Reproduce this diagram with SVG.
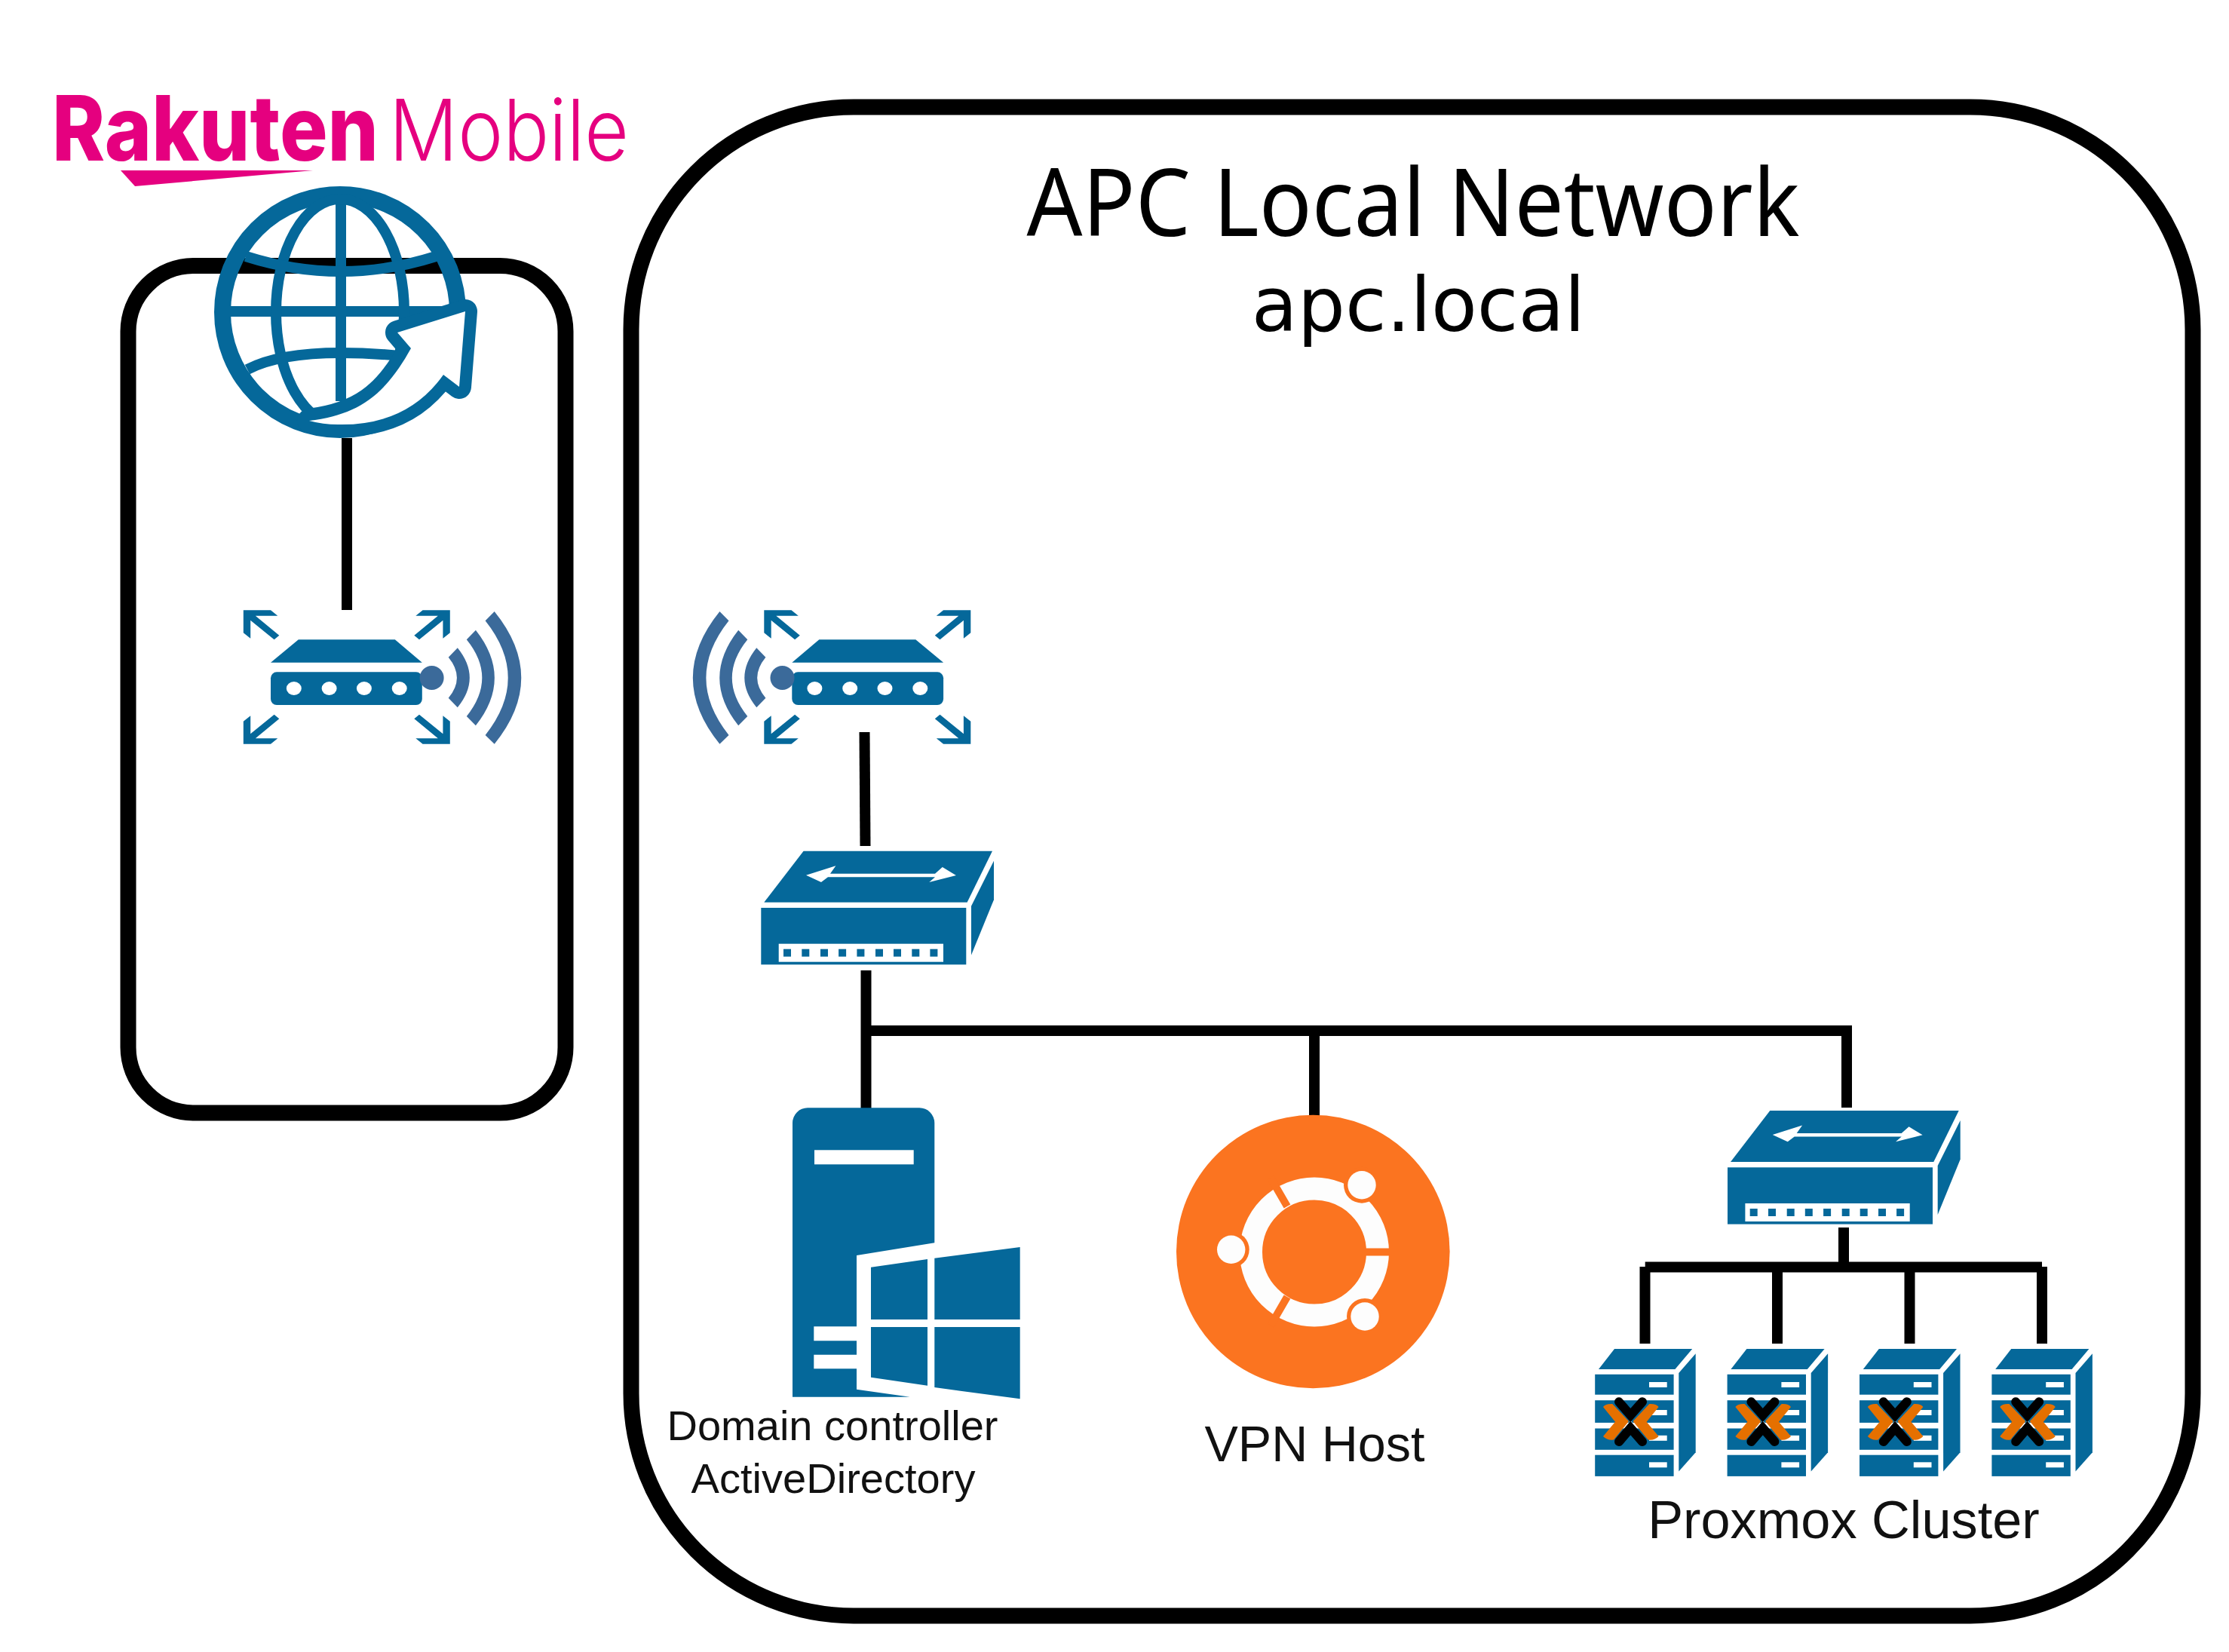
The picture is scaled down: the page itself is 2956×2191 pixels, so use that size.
<svg xmlns="http://www.w3.org/2000/svg" xmlns:xlink="http://www.w3.org/1999/xlink" width="2956" height="2191" viewBox="0 0 2956 2191">
<style>
.b{fill:#05689a}
.w{fill:#fff}
.wifi{fill:#3b6a9a}
.box{fill:none;stroke:#000;stroke-width:21}
.c{fill:none;stroke:#000;stroke-width:14}
.lbl{font-family:"Liberation Sans",Arial,sans-serif;fill:#111;text-anchor:middle}
.ttl{font-family:"Noto Sans","Open Sans",sans-serif;fill:#000;text-anchor:middle}
.sub{font-family:"DejaVu Sans",sans-serif;fill:#000;text-anchor:middle}
.logo{font-family:Inter,"Liberation Sans",sans-serif;fill:#e5007f}
.gl{fill:none;stroke:#05689a;stroke-width:14}
.o{fill:#e57000}
</style>
<defs>
<g id="ar"><polygon class="b" points="-137,-88.7 -100.8,-88.7 -91.5,-81.3 -121,-81.3 -89.5,-55.3 -96.2,-49.7 -127.6,-75.3 -127.6,-51.3 -137,-58.7"/></g>
<g id="router">
<use xlink:href="#ar" href="#ar"/>
<use xlink:href="#ar" href="#ar" transform="scale(-1,1)"/>
<use xlink:href="#ar" href="#ar" transform="scale(1,-1)"/>
<use xlink:href="#ar" href="#ar" transform="scale(-1,-1)"/>
<polygon class="b" points="-64,-49.7 64,-49.7 100,-19.3 -100.8,-19.3"/>
<rect class="b" x="-100.8" y="-6.7" width="200.8" height="43.7" rx="8"/>
<ellipse class="w" cx="-70" cy="15" rx="10" ry="9"/><ellipse class="w" cx="-23.2" cy="15" rx="10" ry="9"/><ellipse class="w" cx="23.1" cy="15" rx="10" ry="9"/><ellipse class="w" cx="69.9" cy="15" rx="10" ry="9"/>
<circle class="wifi" cx="112.8" cy="1" r="16"/>
<path class="wifi" d="M147,-38.7 L134.9,-26.3 Q157.3,1 134.9,27.7 L147,40.3 Q179,1 147,-38.7Z"/>
<path class="wifi" d="M171.1,-62.3 L159,-49.7 Q200,1 159,52 L171.1,64.3 Q221,1 171.1,-62.3Z"/>
<path class="wifi" d="M195.9,-87 L183.8,-74.7 Q244,1 183.8,77 L195.9,88.7 Q267,1 195.9,-87Z"/>
</g>
<g id="switch">
<polygon class="b" points="1065.6,1128.7 1316,1128.7 1282.6,1196.7 1013.3,1196.7"/>
<polygon class="b" points="1288,1201.7 1318,1141.7 1318,1193.3 1288,1266.7"/>
<rect class="b" x="1009.3" y="1204" width="272" height="75.3"/>
<rect class="w" x="1032.7" y="1251.7" width="218.3" height="24"/>
<g class="b"><rect x="1039" y="1258.7" width="10" height="10"/><rect x="1063.3" y="1258.7" width="10" height="10"/><rect x="1088" y="1258.7" width="10" height="10"/><rect x="1112.1" y="1258.7" width="10" height="10"/><rect x="1136.4" y="1258.7" width="10" height="10"/><rect x="1161" y="1258.7" width="10" height="10"/><rect x="1185" y="1258.7" width="10" height="10"/><rect x="1209.3" y="1258.7" width="10" height="10"/><rect x="1233.4" y="1258.7" width="10" height="10"/></g>
<polygon class="w" points="1069,1160.7 1108.4,1148.3 1101,1158.7 1240,1158.7 1249.8,1150 1267.9,1161 1232.3,1170 1240,1163.3 1098,1163.3 1089,1170"/>
</g>
<g id="pve">
<polygon class="b" points="2141,1789 2244.2,1789 2221.4,1815.9 2120,1815.9"/>
<polygon class="b" points="2226.3,1821 2248.7,1795.2 2248.7,1926.2 2226.3,1951.4"/>
<rect class="b" x="2115.2" y="1822.8" width="104.4" height="26.9"/>
<rect class="b" x="2115.2" y="1857.2" width="104.4" height="29.7"/>
<rect class="b" x="2115.2" y="1894.5" width="104.4" height="28.3"/>
<rect class="b" x="2115.2" y="1929.7" width="104.4" height="28.2"/>
<g class="w"><rect x="2187" y="1833" width="23.7" height="7"/><rect x="2187" y="1870" width="23.7" height="7"/><rect x="2187" y="1903.8" width="23.7" height="7"/><rect x="2187" y="1939.3" width="23.7" height="7"/></g>
<polygon class="w" points="2162.5,1884 2156,1893 2169,1893"/>
<path d="M2147,1859.3L2162.3,1877L2178,1859.3M2147,1912L2162.3,1894L2178,1912" fill="none" stroke="#000" stroke-width="12" stroke-linecap="round"/>
<path class="o" d="M2126,1866Q2129,1861.5 2138.3,1862L2160,1885L2140,1909.5Q2132,1911 2126,1905L2142,1885.7Z"/>
<path class="o" d="M2199.6,1866Q2196.6,1861.5 2187.3,1862L2165.6,1885L2185.6,1909.5Q2193.6,1911 2199.6,1905L2183.6,1885.7Z"/>
</g>
</defs>
<rect width="2956" height="2191" fill="#fff"/>
<g id="apc-network"><rect class="box" x="837" y="142" width="2071" height="2001" rx="295"/>
<text class="ttl" x="1874" y="313" font-size="125" textLength="1025" lengthAdjust="spacingAndGlyphs">APC Local Network</text>
<text class="sub" x="1881" y="438.5" font-size="99.5">apc.local</text></g>
<g id="isp-box"><rect class="box" x="170" y="352.5" width="580" height="1123.5" rx="87"/></g>
<g id="rakuten-logo">
<text class="logo" y="212.5"><tspan x="69" font-size="120" font-weight="800" textLength="433" lengthAdjust="spacingAndGlyphs">Rakuten</tspan><tspan x="516" font-size="113" font-weight="300" textLength="318" lengthAdjust="spacingAndGlyphs">Mobile</tspan></text>
<polygon points="160,226 415,226 179,247" fill="#e5007f"/>
</g>
<g id="connectors">
<path class="c" d="M460,581V809"/>
<path class="c" d="M1146.5,971L1147.5,1122"/>
<path class="c" d="M1148.5,1287V1470M1148.5,1367H2445M1743,1367V1480"/>
<path class="c" d="M2449,1360V1469"/>
<path class="c" d="M2445,1628V1680M2181.7,1680.5H2708M2181.5,1680V1782M2357,1680V1782M2532.5,1680V1782M2708,1680V1782"/>
</g>
<g id="internet">
<circle cx="451" cy="414" r="156" fill="none" stroke="#05689a" stroke-width="22"/>
<path class="gl" d="M452,263V532M296,413H600"/>
<ellipse class="gl" cx="451" cy="414" rx="85" ry="150"/>
<path class="gl" d="M326,340Q452,380 578,340M328,490Q370,468 452,468Q490,468 530,472"/>
<path d="M617,413L609,513L588,497Q540,565 448,563Q428,563 410,558C475,550 510,525 545,462L527,441Z" fill="#fff" stroke="#05689a" stroke-width="32" stroke-linejoin="round" paint-order="stroke"/>
</g>
<g id="router-isp"><use xlink:href="#router" href="#router" transform="translate(459.8,898)"/></g>
<g id="router-apc"><use xlink:href="#router" href="#router" transform="translate(1150.3,898) scale(-1,1)"/></g>
<g id="switch-main"><use xlink:href="#switch" href="#switch"/></g>
<g id="switch-pve"><use xlink:href="#switch" href="#switch" transform="translate(1281.7,344.3)"/></g>
<g id="domain-controller">
<path class="b" d="M1071,1469.3H1219.3A20,20 0 0 1 1239.3,1489.3V1648.3L1136,1665V1759.3H1079.3V1778.3H1136V1796.7H1079.3V1815.3H1136V1842.7L1206.7,1852.7H1051V1489.3A20,20 0 0 1 1071,1469.3Z"/>
<rect class="w" x="1080" y="1525.3" width="131.7" height="19"/>
<polygon class="b" points="1155,1680.7 1230,1670 1230,1750 1155,1750"/>
<polygon class="b" points="1239.3,1668.7 1352.7,1654 1352.7,1750 1239.3,1750"/>
<polygon class="b" points="1155,1760 1230,1760 1230,1837.7 1155,1826.7"/>
<polygon class="b" points="1239.3,1760 1352.7,1760 1352.7,1855.3 1239.3,1840"/>
<text class="lbl" x="1104" y="1910" font-size="55" textLength="439" lengthAdjust="spacingAndGlyphs">Domain controller</text>
<text class="lbl" x="1105" y="1980" font-size="55" textLength="377" lengthAdjust="spacingAndGlyphs">ActiveDirectory</text>
</g>
<g id="vpn-host">
<circle cx="1741.3" cy="1660" r="181.3" fill="#fb7420"/>
<circle cx="1743" cy="1660.5" r="84" fill="none" stroke="#fdfdfd" stroke-width="30"/>
<path d="M1811,1660.5H1850M1707,1600L1685,1562M1707,1720L1685,1758" stroke="#fb7420" stroke-width="10" fill="none"/>
<g fill="#fb7420"><circle cx="1806" cy="1571.7" r="24"/><circle cx="1632.7" cy="1657.3" r="24"/><circle cx="1810" cy="1746" r="24"/></g>
<g fill="#fdfdfd"><circle cx="1806" cy="1571.7" r="18.7"/><circle cx="1632.7" cy="1657.3" r="18.7"/><circle cx="1810" cy="1746" r="18.7"/></g>
<text class="lbl" x="1743.5" y="1938" font-size="66.5">VPN Host</text>
</g>
<g id="proxmox-cluster">
<use xlink:href="#pve" href="#pve"/>
<use xlink:href="#pve" href="#pve" transform="translate(175.4,0)"/>
<use xlink:href="#pve" href="#pve" transform="translate(350.8,0)"/>
<use xlink:href="#pve" href="#pve" transform="translate(526.2,0)"/>
<text class="lbl" x="2445" y="2040" font-size="70.3">Proxmox Cluster</text>
</g>
</svg>
